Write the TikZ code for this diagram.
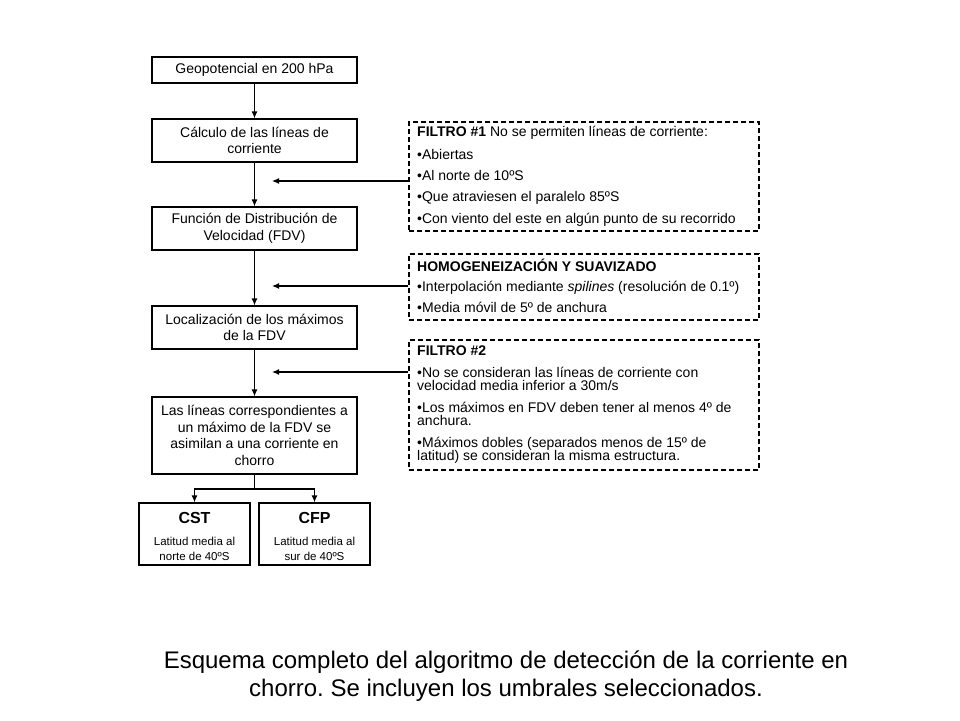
\documentclass[tikz,border=0pt]{standalone}
\usepackage{fontspec}
\setmainfont{Liberation Sans}
\usetikzlibrary{arrows.meta}
\begin{document}
\frenchspacing
\begin{tikzpicture}[x=1pt,y=-1pt,
 box/.style={draw=black, line width=1.2pt, minimum width=205pt, align=center, inner sep=0pt, font=\fontsize{14}{16.5}\selectfont},
 sbox/.style={draw=black, line width=1.2pt, minimum width=111pt, minimum height=62pt, align=center, inner sep=0pt, font=\fontsize{11.5}{15.5}\selectfont},
 dbox/.style={draw=black, line width=1.2pt, dash pattern=on 5pt off 3pt, minimum width=350pt, inner sep=0pt},
 arr/.style={-{Latex[length=7pt,width=6pt]}, line width=1.2pt},
 ln/.style={line width=1.2pt},
 tx/.style={anchor=base west, inner sep=0pt, font=\fontsize{14}{16}\selectfont},
 captext/.style={align=center, inner sep=0pt, font=\fontsize{24}{28}\selectfont\frenchspacing}
]
\path[use as bounding box] (0,0) rectangle (960,720);

% main chain
\node[box, minimum height=26pt] (b1) at (254.5,70) {Geopotencial en 200 hPa};
\node[box, minimum height=43pt] (b2) at (254.5,140.5) {Cálculo de las líneas de\\corriente};
\node[box, minimum height=43pt] (b3) at (254.5,228.5) {Función de Distribución de\\Velocidad (FDV)};
\node[box, minimum height=43pt] (b4) at (254.5,327.5) {Localización de los máximos\\de la FDV};
\node[box, minimum height=77pt] (b5) at (254.5,435.5) {Las líneas correspondientes a\\un máximo de la FDV se\\asimilan a una corriente en\\chorro};
\node[sbox] (cst) at (194.5,534) {\rule{0pt}{16.5pt}\textbf{\fontsize{16}{18}\selectfont CST}\\[6pt]Latitud media al\\norte de 40ºS};
\node[sbox] (cfp) at (314.5,534) {\rule{0pt}{16.5pt}\textbf{\fontsize{16}{18}\selectfont CFP}\\[6pt]Latitud media al\\sur de 40ºS};

\draw[arr] (b1) -- (b2);
\draw[arr] (b2) -- (b3);
\draw[arr] (b3) -- (b4);
\draw[arr] (b4) -- (b5);
\coordinate (sp) at (254.5,489);
\draw[ln] (b5.south) -- (sp);
\draw[arr] (sp) -| (cst);
\draw[arr] (sp) -| (cfp);

% dashed boxes
\node[dbox, minimum height=109pt] (f1) at (584,176.5) {};
\node[dbox, minimum height=66pt] (hs) at (584,287) {};
\node[dbox, minimum height=130pt] (f2) at (584,405) {};

\coordinate (t1) at (272,181);
\coordinate (t2) at (272,286);
\coordinate (t3) at (272,372);
\draw[arr] (f1.west |- t1) -- (t1);
\draw[arr] (hs.west |- t2) -- (t2);
\draw[arr] (f2.west |- t3) -- (t3);

% texts of FILTRO #1
\node[tx] (f1a) at (417,136) {\textbf{FILTRO \#1} No se permiten líneas de corriente:};
\node[tx] (f1b) at (417,159) {•Abiertas};
\node[tx] (f1c) at (417,180) {•Al norte de 10ºS};
\node[tx] (f1d) at (417,201) {•Que atraviesen el paralelo 85ºS};
\node[tx] (f1e) at (417,223) {•Con viento del este en algún punto de su recorrido};

% texts of HOMOGENEIZACION
\node[tx] (hsa) at (417,271) {\textbf{HOMOGENEIZACIÓN Y SUAVIZADO}};
\node[tx] (hsb) at (417,291) {•Interpolación mediante \textit{spilines} (resolución de 0.1º)};
\node[tx] (hsc) at (417,312) {•Media móvil de 5º de anchura};

% texts of FILTRO #2
\node[tx] (f2a) at (417,355) {\textbf{FILTRO \#2}};
\node[tx] (f2b) at (417,377) {•No se consideran las líneas de corriente con};
\node[tx] (f2c) at (417,390) {velocidad media inferior a 30m/s};
\node[tx] (f2d) at (417,412) {•Los máximos en FDV deben tener al menos 4º de};
\node[tx] (f2e) at (417,425) {anchura.};
\node[tx] (f2f) at (417,447) {•Máximos dobles (separados menos de 15º de};
\node[tx] (f2g) at (417,460) {latitud) se consideran la misma estructura.};

% caption
\node[captext] (capt) at (506,676) {Esquema completo del algoritmo de detección de la corriente en\\chorro. Se incluyen los umbrales seleccionados.};
\end{tikzpicture}
\end{document}
